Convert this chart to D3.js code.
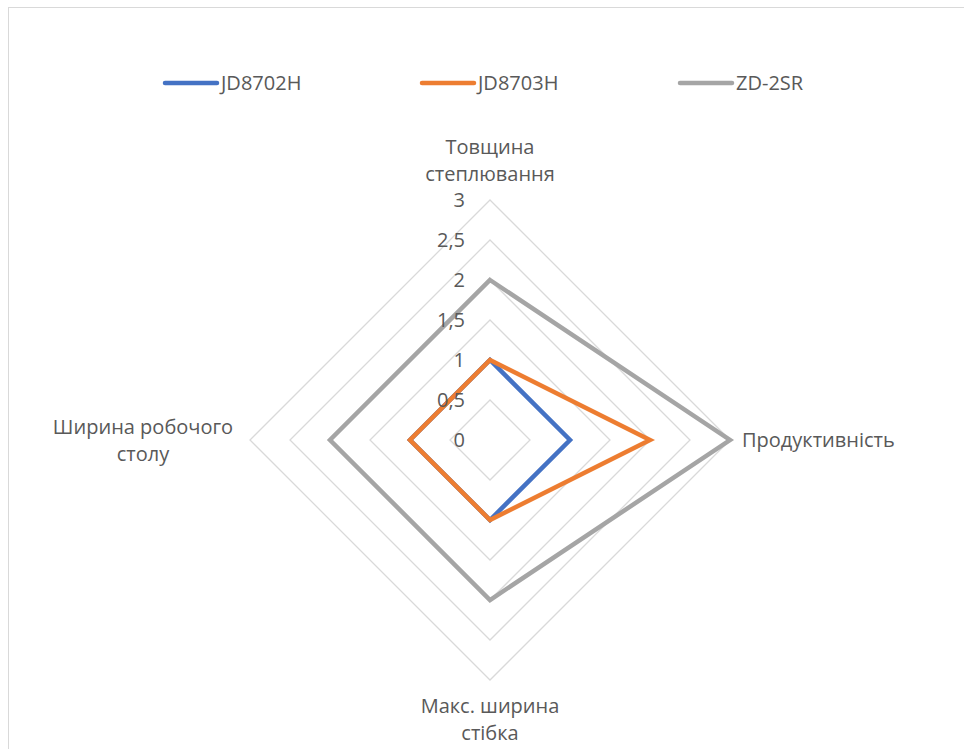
<!DOCTYPE html>
<html><head><meta charset="utf-8">
<script src="https://cdn.jsdelivr.net/npm/d3@7"></script>
<style>html,body{margin:0;padding:0;background:#fff;}svg{display:block;}</style>
</head><body>
<svg id="c" width="964" height="749"></svg>
<script>
const axes = [["Товщина", "степлювання"], ["Продуктивність"], ["Макс. ширина", "стібка"], ["Ширина робочого", "столу"]];
const seriesNames = ["JD8702H", "JD8703H", "ZD-2SR"];
const jd8702h = [1, 1, 1, 1];
const jd8703h = [1, 2, 1, 1];
const zd2sr = [2, 3, 2, 2];
const tickValues = [0, 0.5, 1, 1.5, 2, 2.5, 3];
const tickLabels = ["0", "0,5", "1", "1,5", "2", "2,5", "3"];
const colors = ["#4472C4", "#ED7D31", "#A5A5A5"];
const seriesValues = [jd8702h, jd8703h, zd2sr];

const svg = d3.select("#c");
const font = "'Open Sans', 'Liberation Sans', Arial, sans-serif";
const fs = 20;
svg.append("rect").attr("x", 8.5).attr("y", 7.5).attr("width", 1000).attr("height", 800)
  .attr("fill", "#fff").attr("stroke", "#d9d9d9").attr("stroke-width", 1);

const cx = 490, cy = 440;
const r = d3.scaleLinear().domain([0, 3]).range([0, 240]);
const angle = d3.scalePoint().domain(d3.range(axes.length)).range([0, 2 * Math.PI * (axes.length - 1) / axes.length]);
const pt = (i, v) => [cx + r(v) * Math.sin(angle(i)), cy - r(v) * Math.cos(angle(i))];

const g = svg.append("g");
const line = d3.line().curve(d3.curveLinearClosed);
tickValues.filter(v => v > 0).forEach(v => {
  g.append("path").attr("d", line(axes.map((a, i) => pt(i, v))))
    .attr("fill", "none").attr("stroke", "#d9d9d9").attr("stroke-width", 1.3);
});

seriesValues.forEach((vals, s) => {
  g.append("path").attr("d", line(vals.map((v, i) => pt(i, v))))
    .attr("fill", "none").attr("stroke", colors[s]).attr("stroke-width", 4.5)
    .attr("stroke-linejoin", "miter");
});

tickValues.forEach((v, k) => {
  g.append("text").attr("x", cx - 25).attr("y", cy - r(v)).attr("dy", "0.35em")
    .attr("text-anchor", "end").attr("font-family", font).attr("font-size", fs)
    .attr("fill", "#595959").text(tickLabels[k]);
});

// axis labels
const lblPos = [
  {x: cx, y: cy - 293, anchor: "middle"},
  {x: cx + 252, y: cy, anchor: "start"},
  {x: cx, y: cy + 266, anchor: "middle"},
  {x: 143, y: cy - 13, anchor: "middle"}
];
axes.forEach((lines, i) => {
  const p = lblPos[i];
  const t = g.append("text").attr("x", p.x).attr("y", p.y).attr("text-anchor", p.anchor)
    .attr("font-family", font).attr("font-size", fs).attr("fill", "#595959");
  lines.forEach((l, j) => t.append("tspan").attr("x", p.x).attr("dy", j === 0 ? "0.35em" : 27).text(l));
});

// legend
const legX = [163, 420, 678];
seriesNames.forEach((n, s) => {
  const lg = svg.append("g").attr("transform", `translate(${legX[s]},83)`);
  lg.append("line").attr("x1", 2).attr("x2", 54).attr("stroke", colors[s]).attr("stroke-width", 4.5).attr("stroke-linecap", "round");
  lg.append("text").attr("x", 58).attr("dy", "0.35em").attr("font-family", font).attr("font-size", fs)
    .attr("fill", "#595959").text(n);
});
</script>
</body></html>
